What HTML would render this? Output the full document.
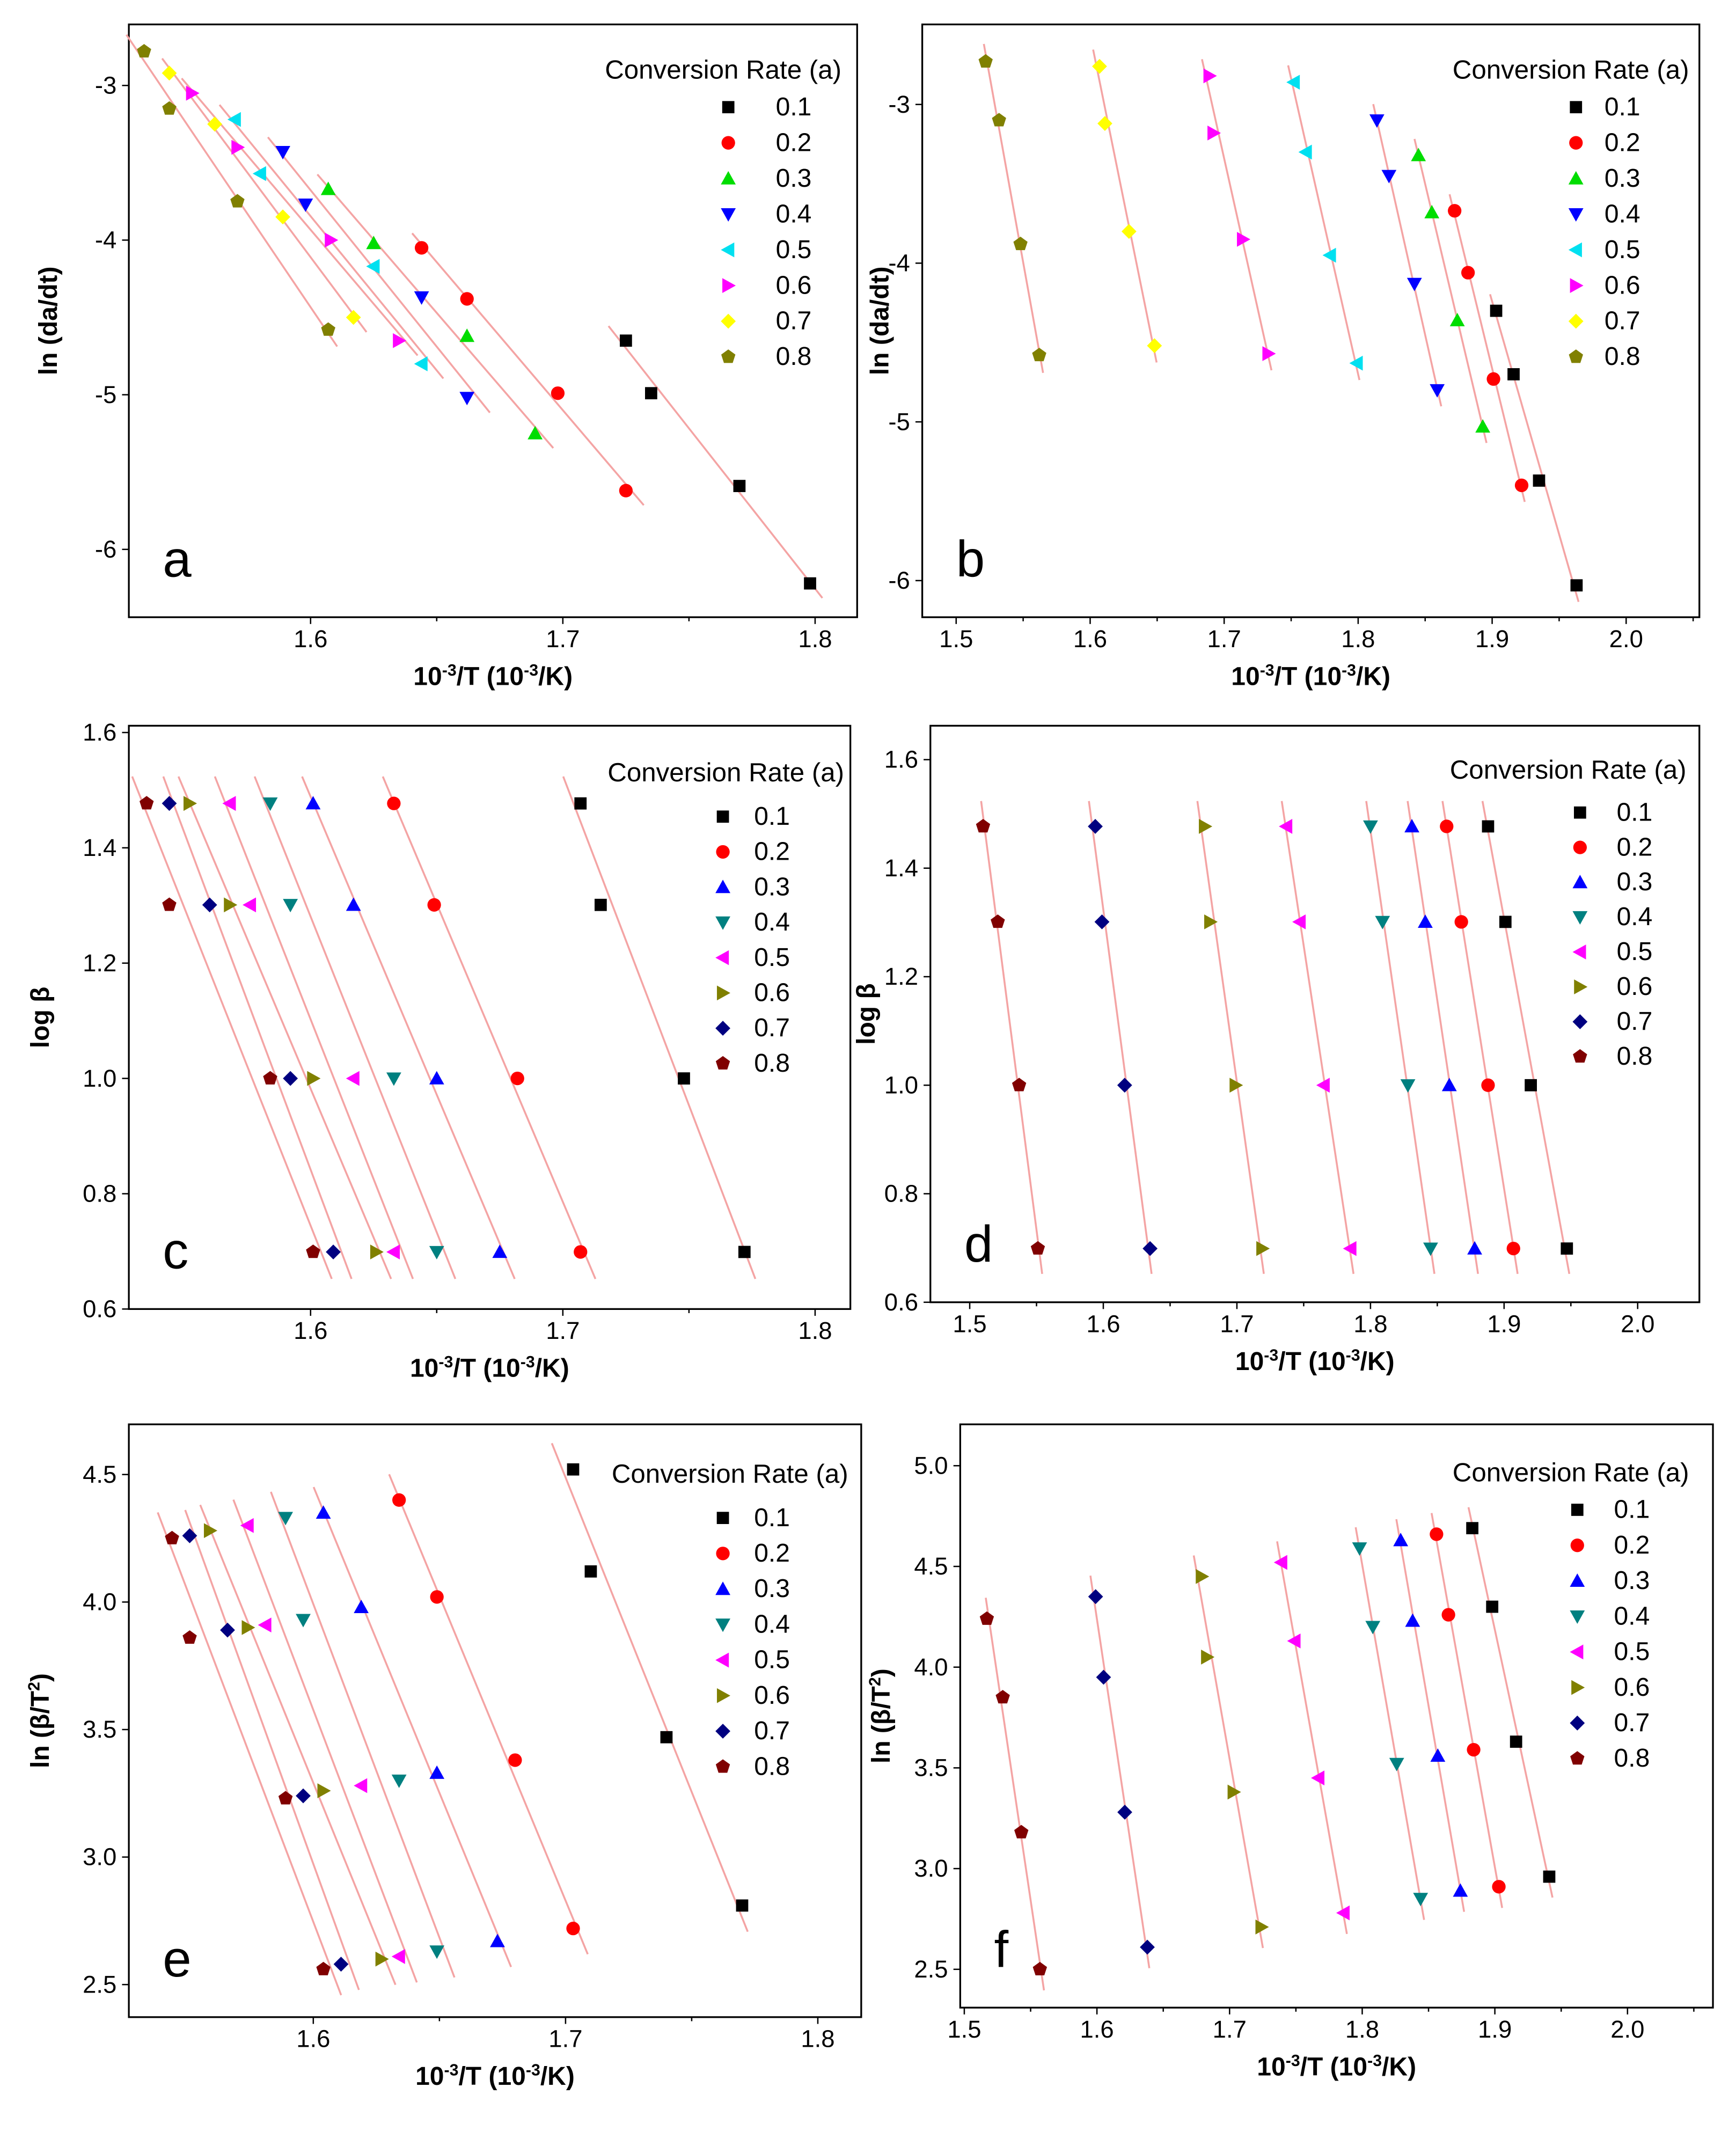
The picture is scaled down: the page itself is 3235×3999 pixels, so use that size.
<!DOCTYPE html>
<html><head><meta charset="utf-8"><style>
html,body{margin:0;padding:0;background:#fff;}
svg{display:block;}
text{font-family:"Liberation Sans",sans-serif;}
</style></head><body>
<svg id="fig" width="3235" height="3999" viewBox="0 0 1280 1582" preserveAspectRatio="none" xmlns="http://www.w3.org/2000/svg"></svg>
<script>
// ---- Data (x = 1000/T in 10^-3/K) ----
const seriesLabels = ["0.1","0.2","0.3","0.4","0.5","0.6","0.7","0.8"];
// panel a: ln(da/dt)
const aX = [[1.725,1.735,1.770,1.798],[1.644,1.662,1.698,1.725],[1.607,1.625,1.662,1.689],[1.589,1.598,1.644,1.662],[1.570,1.580,1.625,1.644],[1.553,1.571,1.608,1.635],[1.544,1.562,1.589,1.617],[1.534,1.544,1.571,1.607]];
const aY = [[-4.65,-4.99,-5.59,-6.22],[-4.05,-4.38,-4.99,-5.62],[-3.67,-4.02,-4.62,-5.25],[-3.43,-3.77,-4.37,-5.02],[-3.22,-3.57,-4.17,-4.80],[-3.05,-3.40,-4.00,-4.65],[-2.92,-3.25,-3.85,-4.50],[-2.78,-3.15,-3.75,-4.58]];
// panel b
const bX = [[1.903,1.916,1.935,1.963],[1.872,1.882,1.901,1.922],[1.845,1.855,1.874,1.893],[1.814,1.823,1.842,1.859],[1.752,1.761,1.779,1.799],[1.689,1.692,1.714,1.733],[1.607,1.611,1.629,1.648],[1.522,1.532,1.548,1.562]];
const bY = [[-4.30,-4.70,-5.37,-6.03],[-3.67,-4.06,-4.73,-5.40],[-3.32,-3.68,-4.36,-5.03],[-3.10,-3.45,-4.13,-4.80],[-2.86,-3.30,-3.95,-4.63],[-2.82,-3.18,-3.85,-4.57],[-2.76,-3.12,-3.80,-4.52],[-2.73,-3.10,-3.88,-4.58]];
// panel c: log beta
const logBeta = [1.477,1.301,1.0,0.699];
const cX = [[1.707,1.715,1.748,1.772],[1.633,1.649,1.682,1.707],[1.601,1.617,1.650,1.675],[1.584,1.592,1.633,1.650],[1.568,1.576,1.617,1.633],[1.552,1.568,1.601,1.626],[1.544,1.560,1.592,1.609],[1.535,1.544,1.584,1.601]];
// panel d
const dX = [[1.888,1.901,1.920,1.947],[1.857,1.868,1.888,1.907],[1.831,1.841,1.859,1.878],[1.800,1.809,1.828,1.845],[1.737,1.747,1.765,1.785],[1.676,1.680,1.699,1.719],[1.594,1.599,1.616,1.635],[1.510,1.521,1.537,1.551]];
// panel e: ln(beta/T^2)
const eX = [[1.703,1.710,1.740,1.770],[1.634,1.649,1.680,1.703],[1.604,1.619,1.649,1.673],[1.589,1.596,1.634,1.649],[1.574,1.581,1.619,1.634],[1.559,1.574,1.604,1.627],[1.551,1.566,1.596,1.611],[1.544,1.551,1.589,1.604]];
const eY = [[4.52,4.12,3.47,2.81],[4.40,4.02,3.38,2.72],[4.35,3.98,3.33,2.67],[4.33,3.93,3.30,2.63],[4.30,3.91,3.28,2.61],[4.28,3.90,3.26,2.60],[4.26,3.89,3.24,2.58],[4.25,3.86,3.23,2.56]];
// panel f
const fX = [[1.883,1.898,1.916,1.941],[1.856,1.865,1.884,1.903],[1.829,1.838,1.857,1.874],[1.798,1.808,1.826,1.844],[1.739,1.749,1.767,1.786],[1.679,1.683,1.703,1.724],[1.599,1.605,1.621,1.638],[1.517,1.529,1.543,1.557]];
const fY = [[4.69,4.30,3.63,2.96],[4.66,4.26,3.59,2.91],[4.63,4.23,3.56,2.89],[4.59,4.20,3.52,2.85],[4.52,4.13,3.45,2.78],[4.45,4.05,3.38,2.71],[4.35,3.95,3.28,2.61],[4.24,3.85,3.18,2.50]];
const xTicksACE = [1.6,1.7,1.8];
const xTicksBDF = [1.5,1.6,1.7,1.8,1.9,2.0];
const yTicksA = [-3,-4,-5,-6];
const yTicksB = [-3,-4,-5,-6];
const yTicksC = [0.6,0.8,1.0,1.2,1.4,1.6];
const yTicksD = [0.6,0.8,1.0,1.2,1.4,1.6];
const yTicksE = [2.5,3.0,3.5,4.0,4.5];
const yTicksF = [2.5,3.0,3.5,4.0,4.5,5.0];

const NS="http://www.w3.org/2000/svg";
const svg=document.getElementById('fig');
function mk(tag,attrs,parent){const e=document.createElementNS(NS,tag);for(const k in attrs)e.setAttribute(k,attrs[k]);(parent||svg).appendChild(e);return e;}

const markersAB=[["sq","#000"],["ci","#ff0000"],["up","#00dd00"],["dn","#0000ff"],["lt","#00e0f0"],["rt","#ff00ff"],["di","#ffff00"],["pe","#808000"]];
const markersCF=[["sq","#000"],["ci","#ff0000"],["up","#0000ff"],["dn","#008080"],["lt","#ff00ff"],["rt","#808000"],["di","#000080"],["pe","#800000"]];
function marker(g,type,color,x,y){
  const s=5.5;let el;
  if(type==="sq")el=mk('rect',{x:x-s+1,y:y-s+1,width:2*s-2,height:2*s-2,fill:color},g);
  else if(type==="ci")el=mk('circle',{cx:x,cy:y,r:s-0.5,fill:color},g);
  else{let p;
    if(type==="up")p=[[x,y-s],[x+s,y+s*0.8],[x-s,y+s*0.8]];
    else if(type==="dn")p=[[x,y+s],[x+s,y-s*0.8],[x-s,y-s*0.8]];
    else if(type==="lt")p=[[x-s,y],[x+s*0.8,y-s],[x+s*0.8,y+s]];
    else if(type==="rt")p=[[x+s,y],[x-s*0.8,y-s],[x-s*0.8,y+s]];
    else if(type==="di")p=[[x,y-s],[x+s,y],[x,y+s],[x-s,y]];
    else{p=[];for(let i=0;i<5;i++){const a=-Math.PI/2+i*2*Math.PI/5;p.push([x+s*Math.cos(a),y+s*Math.sin(a)]);}}
    el=mk('polygon',{points:p.map(q=>q.join(',')).join(' '),fill:color},g);}
  return el;
}

function panel(cfg){
  const g=mk('g',{});
  
  
  const X=v=>cfg.xp0+(v-cfg.xv0)*cfg.xs, Y=v=>cfg.yp0-(v-cfg.yv0)*cfg.ys;
  const fr=mk('rect',{x:cfg.fx,y:cfg.fy,width:cfg.fw,height:cfg.fh,fill:'none',stroke:'#000','stroke-width':1.3},g);
  
  
  const by=cfg.fy+cfg.fh;
  cfg.xt.forEach(v=>{const px=X(v);
    mk('line',{x1:px,y1:by,x2:px,y2:by+5,stroke:'#000'},g);
    const mid=X(v+0.05); if(mid<cfg.fx+cfg.fw) mk('line',{x1:mid,y1:by,x2:mid,y2:by+3,stroke:'#000'},g);
    const t=mk('text',{x:px,y:by+22,'font-size':18,'text-anchor':'middle'},g);t.textContent=v.toFixed(1);
    
    });
  cfg.yt.forEach(v=>{const py=Y(v);
    mk('line',{x1:cfg.fx,y1:py,x2:cfg.fx-5,y2:py,stroke:'#000'},g);
    const t=mk('text',{x:cfg.fx-9,y:py+6,'font-size':18,'text-anchor':'end'},g);t.textContent=cfg.yfmt(v);
    
    });
  const xt=mk('text',{x:cfg.fx+cfg.fw/2,y:by+50,'font-size':19,'font-weight':'bold','text-anchor':'middle'},g);
  xt.innerHTML='10<tspan dy="-7" font-size="12">-3</tspan><tspan dy="7">/T (10</tspan><tspan dy="-7" font-size="12">-3</tspan><tspan dy="7">/K)</tspan>';
  
  
  const yt=mk('text',{x:0,y:0,'font-size':19,'font-weight':'bold','text-anchor':'middle',transform:`translate(${cfg.ytx},${cfg.fy+cfg.fh/2}) rotate(-90)`},g);
  yt.innerHTML=cfg.ytitle;
  
  
  const lt=mk('text',{x:cfg.fx+25,y:by-30,'font-size':38},g);lt.textContent=cfg.id;
  
  
  cfg.xs_.forEach((xs,i)=>{const ys=cfg.ys_(i);
    const n=xs.length;let my=0,mx=0;for(let k=0;k<n;k++){my+=ys[k];mx+=xs[k];}my/=n;mx/=n;
    let sxy=0,syy=0;for(let k=0;k<n;k++){sxy+=(xs[k]-mx)*(ys[k]-my);syy+=(ys[k]-my)**2;}
    const b=sxy/syy;const y1=Math.max(...ys),y2=Math.min(...ys);const ext=(y1-y2)*0.06;
    const ya=y1+ext,yb=y2-ext;
    const l=mk('line',{x1:X(mx+b*(ya-my)),y1:Y(ya),x2:X(mx+b*(yb-my)),y2:Y(yb),stroke:'#f4a4a4','stroke-width':1.4},g);
    
    });
  cfg.xs_.forEach((xs,i)=>{const ys=cfg.ys_(i);const [tp,c]=cfg.mk[i];
    xs.forEach((xv,k)=>{const m=marker(g,tp,c,X(xv),Y(ys[k]));
      
      });});
  const lg=mk('g',{},g);
  
  
  const tt=mk('text',{x:cfg.lx,y:cfg.ly,'font-size':19.5},lg);tt.textContent='Conversion Rate (a)';
  seriesLabels.forEach((s,i)=>{const yy=cfg.ly+cfg.lr0+i*cfg.ld;
    const m=marker(lg,cfg.mk[i][0],cfg.mk[i][1],cfg.lmx,yy-6);
    
    
    const t=mk('text',{x:cfg.ltx,y:yy,'font-size':19},lg);t.textContent=s;
    
    });
}
const f1=v=>v.toFixed(1), f0=v=>String(v);
const lnda='ln (da/dt)', lb='log β', lbt='ln (β/T<tspan dy="-7" font-size="12">2</tspan><tspan dy="7">)</tspan>';
panel({id:'a',fx:95,fy:18,fw:537,fh:437,xp0:229,xv0:1.6,xs:1860,yp0:63,yv0:-3,ys:114,xt:xTicksACE,yt:yTicksA,yfmt:f0,ytitle:lnda,ytx:42,xs_:aX,ys_:i=>aY[i],mk:markersAB,lx:446,ly:58,lr0:27,ld:26.3,lmx:537,ltx:572});
panel({id:'b',fx:680,fy:18,fw:573,fh:437,xp0:705,xv0:1.5,xs:988,yp0:77,yv0:-3,ys:117,xt:xTicksBDF,yt:yTicksB,yfmt:f0,ytitle:lnda,ytx:655,xs_:bX,ys_:i=>bY[i],mk:markersAB,lx:1071,ly:58,lr0:27,ld:26.3,lmx:1162,ltx:1183});
panel({id:'c',fx:95,fy:535,fw:532,fh:430,xp0:229,xv0:1.6,xs:1860,yp0:795,yv0:1.0,ys:425,xt:xTicksACE,yt:yTicksC,yfmt:f1,ytitle:lb,ytx:36,xs_:cX,ys_:i=>logBeta,mk:markersCF,lx:448,ly:576,lr0:32,ld:26,lmx:533,ltx:556});
panel({id:'d',fx:686,fy:535,fw:567,fh:425,xp0:715,xv0:1.5,xs:985,yp0:800,yv0:1.0,ys:400,xt:xTicksBDF,yt:yTicksD,yfmt:f1,ytitle:lb,ytx:645,xs_:dX,ys_:i=>logBeta,mk:markersCF,lx:1069,ly:574,lr0:31,ld:25.7,lmx:1165,ltx:1192});
panel({id:'e',fx:95,fy:1050,fw:540,fh:437,xp0:231,xv0:1.6,xs:1860,yp0:1181,yv0:4.0,ys:188,xt:xTicksACE,yt:yTicksE,yfmt:f1,ytitle:lbt,ytx:36,xs_:eX,ys_:i=>eY[i],mk:markersCF,lx:451,ly:1093,lr0:32,ld:26.2,lmx:533,ltx:556});
panel({id:'f',fx:708,fy:1050,fw:555,fh:430,xp0:711,xv0:1.5,xs:978,yp0:1229,yv0:4.0,ys:148.5,xt:xTicksBDF,yt:yTicksF,yfmt:f1,ytitle:lbt,ytx:656,xs_:fX,ys_:i=>fY[i],mk:markersCF,lx:1071,ly:1092,lr0:27,ld:26.2,lmx:1163,ltx:1190});
</script>
</body></html>
